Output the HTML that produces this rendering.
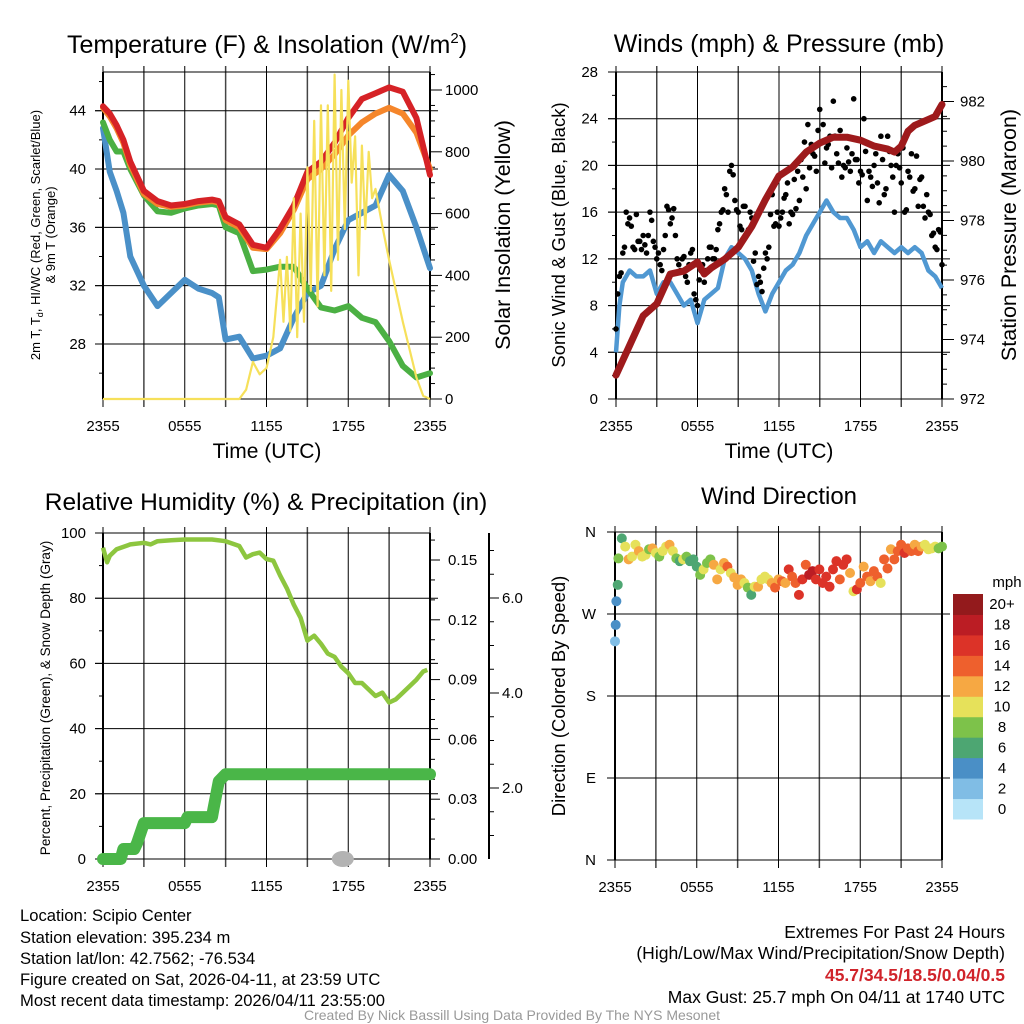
<!DOCTYPE html>
<html><head><meta charset="utf-8">
<style>
html,body{margin:0;padding:0;background:#fff;}
svg{display:block;font-family:"Liberation Sans",Arial,sans-serif;}
</style></head>
<body>
<svg id="fig" width="1024" height="1024" viewBox="0 0 1024 1024" xmlns="http://www.w3.org/2000/svg">
<rect width="1024" height="1024" fill="#fff"/>
<g id="p1"></g>
<g id="p2"></g>
<g id="p3"></g>
<g id="p4"></g>
<g font-size="16.6" fill="#000">
<text x="20" y="921">Location: Scipio Center</text>
<text x="20" y="943">Station elevation: 395.234 m</text>
<text x="20" y="964">Station lat/lon: 42.7562; -76.534</text>
<text x="20" y="985">Figure created on Sat, 2026-04-11, at 23:59 UTC</text>
<text x="20" y="1006">Most recent data timestamp: 2026/04/11 23:55:00</text>
</g>
<g font-size="17.5" text-anchor="end">
<text x="1005" y="938">Extremes For Past 24 Hours</text>
<text x="1005" y="959">(High/Low/Max Wind/Precipitation/Snow Depth)</text>
<text x="1005" y="981" fill="#d0232a" font-weight="bold">45.7/34.5/18.5/0.04/0.5</text>
<text x="1005" y="1003">Max Gust: 25.7 mph On 04/11 at 1740 UTC</text>
</g>
<text x="512" y="1020" text-anchor="middle" font-size="14" fill="#999">Created By Nick Bassill Using Data Provided By The NYS Mesonet</text>
</svg>
<script>
// ---------- data ----------
const timeTicks = ["2355","0555","1155","1755","2355"];
const tempHours = [0,0.5,1,1.5,2,3,4,5,6,7,8,8.5,9,10,11,12,13,14,15,16,17,18,19,20,21,22,23,24];
const tempRed =   [44.3,43.8,43,42,40.5,38.5,37.8,37.5,37.6,37.8,37.9,37.8,36.7,36.2,34.8,34.6,35.9,37.5,39.8,40.5,41.8,43.5,44.8,45.2,45.6,45.3,43.5,39.6];
const tempOrange =[44.2,43.6,42.8,41.8,40.3,38.3,37.6,37.4,37.5,37.7,37.8,37.7,36.5,36,34.6,34.5,35.6,37.2,39.3,40,41,42.3,43.2,43.8,44.2,43.8,42.5,40];
const tempGreen = [43.2,42,41.2,41.2,40,38.2,37.1,37,37.3,37.5,37.6,37.5,36,35.6,33,33.1,33.3,33.3,31.8,30.5,30.3,30.6,29.8,29.5,28.2,26.5,25.7,26];
const tempBlue =  [42.8,39.8,38.5,37,34,32,30.6,31.5,32.4,31.8,31.5,31.2,28.3,28.5,27,27.2,27.7,29.8,31.5,32,34.5,36.5,37,37.5,39.6,38.5,36,33.2];
const solarHours = [0,10,10.5,11,11.5,12,12.5,13,13.25,13.5,13.75,14,14.25,14.5,14.75,15,15.25,15.5,15.75,16,16.25,16.5,16.75,17,17.25,17.5,17.75,18,18.25,18.5,18.75,19,19.25,19.5,19.75,20,20.5,21,22,23,23.5,24];
const solarVals =  [0,0,30,120,80,100,200,450,250,460,220,650,200,600,250,750,350,900,300,950,400,950,350,1050,450,1000,550,1030,700,850,400,820,550,800,650,680,560,450,250,70,10,0];

const windHours = [0,0.25,0.5,1,1.5,2,2.5,3,3.5,4,4.5,5,5.5,6,6.5,7,7.5,8,8.5,9,9.5,10,10.5,11,11.5,12,12.5,13,13.5,14,14.5,15,15.5,16,16.5,17,17.5,18,18.5,19,19.5,20,20.5,21,21.5,22,22.5,23,23.5,24];
const windSpeed = [4,8,10,11,10.5,10.5,11,9,10,10,9,8,8.5,6.5,8.5,9,9.5,12,13,12.5,12,11,9,7.5,9,10,11,11.5,12.5,14,15,16,17,16,15.5,15.5,14.5,13,13.5,12.5,13.5,13,12.5,13,12.5,13,12.5,11,10.5,9.5];
const gustVals = [6,10.5,12.5,16,15.5,13,15.8,13.5,14,12.5,16,13.5,12,11.5,12.8,16.5,15,16.3,12,11,12.2,10,12.5,9,8,11,10,12,13,12,14.5,16,18,16,20,17,16,14.5,16.5,14.5,15.5,12.5,10.5,9.2,12.5,13,17.5,15,14.8,16,17.5,15,15.8,16.3,17,19,18,19.8,21,19.5,24.8,23.5,21.5,22.5,25.5,21,23,20,21.5,19.5,25.7,20.5,19.5,24,17,19,20,18.5,22.5,17.5,22.5,20,16,21,18.5,16,19.5,21,18,16.5,19,15.5,16,14,13,14.5,11.5];
const gustVals2 = [9,10.8,13,15,14.8,12.8,13.5,12.8,13.2,14,15.3,13,12.5,11,14,16.2,15.5,14,11.5,12,10.5,11.5,12.8,8.5,10.2,11.5,11,13,12,12.8,15,16.2,17.5,19.5,19.2,16.2,14.8,16.5,14.2,16,11.8,9.8,10,11.2,12,15.8,14.8,16,15.5,17.2,18.5,16,18.8,19.5,20.5,22,23.5,21.8,20.8,23,22,20.2,21.8,19.8,22.5,20.2,19,19.8,20.3,21,20.5,18.5,19.2,21.2,19.5,18.2,21,16.8,20.5,18,21.2,19,20,19.8,21.5,16.2,19,17.8,20.8,18.8,16.5,17.5,15.8,14.2,12.8,14.3];
const presHours = [0,1,2,3,4,5,6,6.5,7,8,9,10,11,12,13,14,15,16,17,18,19,20,20.5,21,21.5,22,23,23.5,24];
const presVals  = [972.8,973.8,974.8,975.2,976.2,976.3,976.6,976.2,976.4,976.7,977.1,977.8,978.7,979.5,979.8,980.3,980.6,980.8,980.8,980.7,980.5,980.4,980.3,980.5,981,981.2,981.4,981.5,981.9];

const rhHours = [0,0.3,0.5,1,2,3,3.5,4,5,6,7,8,9,10,10.5,11,11.5,12,12.5,13,13.5,14,14.5,15,15.5,16,16.5,17,17.5,18,18.5,19,19.5,20,20.5,21,21.5,22,22.5,23,23.5,23.8];
const rhVals  = [95.5,91,93,95,96.5,97,96.5,97.5,97.8,98,98,98,97.5,96,92.5,93.5,94,92,91.5,87,83,78,74,67,68.5,66,63,62,59,57,54,54,52,50,51,48,49,51,53,55,57.5,58];
const precipHours = [0,1.3,1.5,2.3,2.5,3,6,6.2,8,8.1,8.3,8.5,9,24];
const precipVals  = [0,0,0.005,0.005,0.008,0.018,0.018,0.021,0.021,0.025,0.032,0.039,0.0425,0.0425];
const snowHours = [17.6];
const snowVals  = [0];

const dirHours = [0,0.05,0.1,0.2,0.25,0.5,0.75,1,1.25,1.5,1.75,2,2.25,2.5,2.75,3,3.25,3.5,3.75,4,4.25,4.5,4.75,5,5.25,5.5,5.75,6,6.25,6.5,6.75,7,7.25,7.5,7.75,8,8.25,8.5,8.75,9,9.25,9.5,9.75,10,10.25,10.5,10.75,11,11.25,11.5,11.75,12,12.25,12.5,12.75,13,13.25,13.5,13.75,14,14.25,14.5,14.75,15,15.25,15.5,15.75,16,16.25,16.5,16.75,17,17.25,17.5,17.75,18,18.25,18.5,18.75,19,19.25,19.5,19.75,20,20.25,20.5,20.75,21,21.25,21.5,21.75,22,22.25,22.5,22.75,23,23.25,23.5,23.75,24];
const dirVals = [240,258,284,302,331,353,344,330,333,346,339,333,335,341,342,337,333,339,344,346,339,331,328,330,333,328,330,322,313,319,326,330,324,308,319,326,322,315,310,302,308,304,299,291,300,300,308,311,308,304,299,308,306,304,319,311,304,291,308,324,313,317,308,319,304,311,300,319,328,308,324,330,315,295,297,304,322,311,306,317,311,304,330,320,341,330,339,346,337,342,339,346,339,344,346,341,342,344,342,344];
const dirSpeed = [3,4,4.5,6,8,7,10,12,10,10,12,10,10,9,12,10,8,10,10,12,10,8,7,10,8,6,7,6,8,10,9,8,12,13,10,12,14,10,12,12,13,10,8,7,10,12,10,10,11,12,14,12,14,12,16,14,15,17,16,15,18,19,16,16,17,16,17,16,17,15,16,17,12,10,16,14,12,14,12,15,14,10,14,15,12,14,15,14,16,15,14,13,14,12,10,10,11,10,8,8];
const speedBinLabels = ["0","2","4","6","8","10","12","14","16","18","20+"];
const speedBinColors = ["#b7e4f8","#80bde5","#4a8fc6","#4da672","#7dc24a","#e6e15a","#f6a843","#ee602d","#dc3328","#bb1d24","#931a1c"];

// ---------- helpers ----------
const NS="http://www.w3.org/2000/svg";
function mk(parent,tag,attrs){const e=document.createElementNS(NS,tag);for(const k in attrs)e.setAttribute(k,attrs[k]);parent.appendChild(e);return e;}
function txt(parent,x,y,s,size,anchor,extra){const e=mk(parent,'text',Object.assign({x:x,y:y,'font-size':size,'text-anchor':anchor||'middle'},extra||{}));e.textContent=s;return e;}
function lin(d0,d1,r0,r1){return v=>r0+(v-d0)/(d1-d0)*(r1-r0);}
function pathD(xs,ys,fx,fy){return xs.map((t,i)=>(i?'L':'M')+fx(t).toFixed(1)+','+fy(ys[i]).toFixed(1)).join('');}

function frame(g,X0,X1,Y0,Y1,hLines){
  const gx=lin(0,24,X0,X1);
  const grid=mk(g,'g',{stroke:'#000','stroke-width':1});
  
  
  for(let h=0;h<=24;h+=3){mk(grid,'line',{x1:gx(h),x2:gx(h),y1:Y0-6,y2:Y1+8,stroke:(h%6?'#444':'#000'),'stroke-width':(h%6?1.5:1)});}
  hLines.forEach(y=>mk(grid,'line',{x1:X0-8,x2:X1+8,y1:y,y2:y}));
  mk(grid,'line',{x1:X0,x2:X0,y1:Y0,y2:Y1,'stroke-width':2});
  mk(grid,'line',{x1:X1,x2:X1,y1:Y0,y2:Y1,'stroke-width':2});
  mk(grid,'line',{x1:X0,x2:X1,y1:Y0,y2:Y0});
  mk(grid,'line',{x1:X0,x2:X1,y1:Y1,y2:Y1});
  timeTicks.forEach((s,i)=>{const t=txt(g,gx(i*6),Y1+32,s,15);
    
    });
  return gx;
}

// ---------- Panel 1 ----------
(function(){
  const g=document.getElementById('p1');
  const X0=103,X1=430,Y0=72,Y1=399;
  const fy=lin(28,44,344,110.7), fs=lin(0,1000,399,90);
  const gx=frame(g,X0,X1,Y0,Y1,[28,32,36,40,44].map(fy));
  const tk=mk(g,'g',{stroke:'#000','stroke-width':1});
  
  
  for(let v=26;v<=46;v+=2) mk(tk,'line',{x1:X0-(v%4?4:8),x2:X0,y1:fy(v),y2:fy(v)});
  for(let v=0;v<=1050;v+=50) mk(tk,'line',{x1:X1,x2:X1+(v%200?5:12),y1:fs(v),y2:fs(v)});
  [28,32,36,40,44].forEach(v=>{const t=txt(g,86,fy(v)+5,String(v),15,'end');
    
    });
  [0,200,400,600,800,1000].forEach(v=>{const t=txt(g,445,fs(v)+5,String(v),15,'start');
    
    });
  const ser=[[tempBlue,'#4a90c8','dewpoint-line'],[tempGreen,'#4bb043','heat-index-line'],[tempOrange,'#f5862b','temp-9m-line'],[tempRed,'#d62226','temp-2m-line']];
  ser.forEach(s=>{const p=mk(g,'path',{d:pathD(tempHours,s[0],gx,fy),fill:'none',stroke:s[1],'stroke-width':6,'stroke-linejoin':'round','stroke-linecap':'round'});
    
    });
  const sp=mk(g,'path',{d:pathD(solarHours,solarVals,gx,fs),fill:'none',stroke:'#f6e05a','stroke-width':2.2,'stroke-linejoin':'round'});
  
  
  const t1=txt(g,267,53,'Temperature (F) & Insolation (W/m',25);
  
  
  const sup=mk(t1,'tspan',{dy:-10,'font-size':15});sup.textContent='2';
  const cl=mk(t1,'tspan',{dy:10});cl.textContent=')';
  const xt=txt(g,267,458,'Time (UTC)',21);
  
  
  const yt=txt(g,0,0,'',13,'middle',{transform:'translate(40,235) rotate(-90)'});
  
  
  const a=mk(yt,'tspan',{x:0,dy:0});a.innerHTML='2m T, T<tspan font-size="9" dy="3">d</tspan><tspan dy="-3">, HI/WC (Red, Green, Scarlet/Blue)</tspan>';
  const b=mk(yt,'tspan',{x:0,dy:15});b.textContent='& 9m T (Orange)';
  const yr=txt(g,0,0,'Solar Insolation (Yellow)',21.5,'middle',{transform:'translate(510,235) rotate(-90)'});
  
  
})();

// ---------- Panel 2 ----------
(function(){
  const g=document.getElementById('p2');
  const X0=616,X1=942,Y0=72,Y1=399;
  const fy=lin(0,28,399,72), fp=lin(972,982,399,101.5);
  const gx=frame(g,X0,X1,Y0,Y1,[4,8,12,16,20,24].map(fy));
  const tk=mk(g,'g',{stroke:'#000','stroke-width':1});
  
  
  for(let v=0;v<=28;v+=2) mk(tk,'line',{x1:X0-(v%4?4:8),x2:X0,y1:fy(v),y2:fy(v)});
  for(let v=972;v<=982.8;v+=0.5) mk(tk,'line',{x1:X1,x2:X1+(Math.abs(v%2)<0.01?12:5),y1:fp(v),y2:fp(v)});
  [0,4,8,12,16,20,24,28].forEach(v=>{const t=txt(g,598,fy(v)+5,String(v),15,'end');
    
    });
  [972,974,976,978,980,982].forEach(v=>{const t=txt(g,960,fp(v)+5,String(v),15,'start');
    
    });
  const wl=mk(g,'path',{d:pathD(windHours,windSpeed,gx,fy),fill:'none',stroke:'#5098d2','stroke-width':4.5,'stroke-linejoin':'round'});
  
  
  const gg=mk(g,'g',{fill:'#000'});
  
  
  gustVals.forEach((v,i)=>{const c=mk(gg,'circle',{cx:gx(i*0.25),cy:fy(v),r:2.8});
    
    });
  gustVals2.forEach((v,i)=>{const c=mk(gg,'circle',{cx:gx(0.125+i*0.25),cy:fy(v),r:2.8});
    
    });
  const pl=mk(g,'path',{d:pathD(presHours,presVals,gx,fp),fill:'none',stroke:'#9e1a1c','stroke-width':7,'stroke-linejoin':'round','stroke-linecap':'round'});
  
  
  const t1=txt(g,779,52,'Winds (mph) & Pressure (mb)',25);
  
  
  const xt=txt(g,779,458,'Time (UTC)',21);
  
  
  const yt=txt(g,0,0,'Sonic Wind & Gust (Blue, Black)',18.5,'middle',{transform:'translate(565,235) rotate(-90)'});
  
  
  const yr=txt(g,0,0,'Station Pressure (Maroon)',21.5,'middle',{transform:'translate(1016,235) rotate(-90)'});
  
  
})();

// ---------- Panel 3 ----------
(function(){
  const g=document.getElementById('p3');
  const X0=103,X1=430,Y0=533,Y1=859;
  const fy=lin(0,100,859,533), fr=lin(0,0.15,859,560), fsn=lin(2,6,788,598);
  const gx=frame(g,X0,X1,Y0,Y1,[20,40,60,80].map(fy));
  const tk=mk(g,'g',{stroke:'#000','stroke-width':1});
  
  
  for(let v=0;v<=100;v+=10) mk(tk,'line',{x1:X0-(v%20?4:8),x2:X0,y1:fy(v),y2:fy(v)});
  for(let v=0;v<=0.165;v+=0.01) mk(tk,'line',{x1:X1,x2:X1+(Math.round(v*100)%3?5:10),y1:fr(v),y2:fr(v)});
  mk(tk,'line',{x1:489,x2:489,y1:533,y2:859,'stroke-width':2});
  for(let v=1;v<=7;v+=0.5){const y=fsn(v); if(y>=533&&y<=859) mk(tk,'line',{x1:489,x2:489+(v%2?5:10),y1:y,y2:y});}
  [0,20,40,60,80,100].forEach(v=>{const t=txt(g,86,fy(v)+5,String(v),15,'end');
    
    });
  ["0.00","0.03","0.06","0.09","0.12","0.15"].forEach(s=>{const t=txt(g,448,fr(parseFloat(s))+5,s,15,'start');
    
    });
  ["2.0","4.0","6.0"].forEach(s=>{const t=txt(g,502,fsn(parseFloat(s))+5,s,15,'start');
    
    });
  const pr=mk(g,'path',{d:pathD(precipHours,precipVals,gx,fr),fill:'none',stroke:'#4ab648','stroke-width':12,'stroke-linejoin':'round','stroke-linecap':'round'});
  
  
  snowVals.forEach((v,i)=>{const e=mk(g,'ellipse',{cx:gx(snowHours[i]),cy:fsn(v)>859?859:fsn(v),rx:11,ry:8,fill:'#b3b3b3'});
    
    });
  const rh=mk(g,'path',{d:pathD(rhHours,rhVals,gx,fy),fill:'none',stroke:'#8dc63f','stroke-width':4.5,'stroke-linejoin':'round'});
  
  
  const t1=txt(g,266,510,'Relative Humidity (%) & Precipitation (in)',24.5);
  
  
  const yt=txt(g,0,0,'Percent, Precipitation (Green), & Snow Depth (Gray)',13.5,'middle',{transform:'translate(50,698) rotate(-90)'});
  
  
})();

// ---------- Panel 4 ----------
(function(){
  const g=document.getElementById('p4');
  const X0=615,X1=942,Y0=532,Y1=860;
  const fy=lin(0,360,860,532);
  const gx=frame(g,X0,X1,Y0,Y1,[90,180,270].map(fy));
  mk(g,'line',{x1:X0-8,x2:X1,y1:Y0,y2:Y0,stroke:'#000'});
  mk(g,'line',{x1:X0-8,x2:X1,y1:Y1,y2:Y1,stroke:'#000'});
  ["N","E","S","W","N"].forEach((s,i)=>{const t=txt(g,596,fy(i*90)+5,s,15,'end');
    
    });
  const binOf=v=>Math.min(10,Math.floor(v/2));
  const pg=mk(g,'g',{});
  
  
  dirVals.forEach((d,i)=>{const c=mk(pg,'circle',{cx:gx(dirHours[i]),cy:fy(d),r:5,fill:speedBinColors[binOf(dirSpeed[i])]});
    
    });
  const t1=txt(g,779,504,'Wind Direction',24);
  
  
  const yt=txt(g,0,0,'Direction (Colored By Speed)',18.5,'middle',{transform:'translate(565,696) rotate(-90)'});
  
  
  const lg=mk(g,'g',{});
  
  
  const h=(819-594)/11;
  speedBinColors.forEach((c,i)=>{const y=819-(i+1)*h;
    const r=mk(lg,'rect',{x:953,y:y,width:30,height:h+0.5,fill:c});
    
    
    const t=txt(lg,1002,y+h/2+5,speedBinLabels[i],15,'middle');
    
    });
  const u=txt(lg,1007,587,'mph',15,'middle');
  
  
})();
</script>
</body></html>
